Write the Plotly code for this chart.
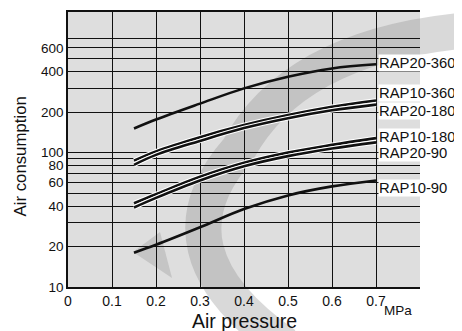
import plotly.graph_objects as go

# ---- data ----
pressure = [0.15, 0.2, 0.3, 0.4, 0.5, 0.6, 0.7]
rap20_360 = [151, 176, 231, 300, 366, 422, 453]
rap10_360 = [87, 102, 130, 160, 190, 219, 244]
rap20_180 = [81, 96, 122, 152, 180, 206, 227]
rap10_180 = [42, 49, 66, 84, 100, 114, 128]
rap20_90 = [39, 46, 62, 79, 94, 107, 119]
rap10_90 = [18, 20.6, 27.8, 38, 48, 56, 62]

series_names = ["RAP20-360", "RAP10-360", "RAP20-180", "RAP10-180", "RAP20-90", "RAP10-90"]
series_values = [rap20_360, rap10_360, rap20_180, rap10_180, rap20_90, rap10_90]
paired = [False, True, True, True, True, False]

x_tickvals = [0, 0.1, 0.2, 0.3, 0.4, 0.5, 0.6, 0.7]
x_ticktext = ["0", "0.1", "0.2", "0.3", "0.4", "0.5", "0.6", "0.7"]
y_gridvals = [10, 20, 30, 40, 50, 60, 70, 80, 90, 100, 200, 300, 400, 500, 600, 700]
y_labelled = [10, 20, 40, 60, 80, 100, 200, 400, 600]
y_ticktext = [str(v) if v in y_labelled else "" for v in y_gridvals]

# label vertical placement (paper fraction of plot height)
label_y = [0.813, 0.704, 0.641, 0.547, 0.488, 0.359]

FONT = "Liberation Sans, Arial, Helvetica, sans-serif"
# page geometry: the browser body adds an 8px margin on the top and left
BODY = 8
PAGE_W, PAGE_H = 462, 331
W, H = PAGE_W - BODY, PAGE_H - BODY
PL, PT, PR, PB = 68, 12, 420, 287          # plot box in page pixels
L, T = PL - BODY, PT - BODY
R, B = PAGE_W - PR, PAGE_H - PB
PW, PH = PR - PL, PB - PT


def px(xp, yp):
    return (xp - PL) / PW, (PB - yp) / PH


fig = go.Figure()

for name, vals, pair in zip(series_names, series_values, paired):
    if pair:
        fig.add_trace(go.Scatter(x=pressure, y=vals, mode="lines",
                                 line=dict(color="white", width=4.6, shape="spline"),
                                 hoverinfo="skip", showlegend=False))
    fig.add_trace(go.Scatter(x=pressure, y=vals, mode="lines", name=name,
                             line=dict(color="#111111", width=2.6, shape="spline"),
                             showlegend=False))

# background + watermark swoosh
shapes = [dict(type="rect", xref="paper", yref="paper", x0=0, x1=1, y0=0, y1=1,
               fillcolor="#dedede", line=dict(width=0), layer="below")]


def pp(xp, yp):
    a, b = px(xp, yp)
    return f"{a:.4f},{b:.4f}"


path = f"M {pp(470,30)} Q {pp(295,45)} {pp(238,150)} Q {pp(150,250)} {pp(285,345)}"
shapes.append(dict(type="path", xref="paper", yref="paper", path=path,
                   line=dict(color="rgba(140,140,140,0.33)", width=36), layer="below"))
tri = f"M {pp(133,252)} L {pp(160,232)} L {pp(172,278)} Z"
shapes.append(dict(type="path", xref="paper", yref="paper", path=tri,
                   fillcolor="rgba(140,140,140,0.30)", line=dict(width=0), layer="below"))

annotations = []
for name, ly in zip(series_names, label_y):
    annotations.append(dict(x=0.705, xref="x", y=ly, yref="paper", text=name,
                            xanchor="left", yanchor="middle", showarrow=False,
                            bgcolor="white", borderpad=0,
                            font=dict(family=FONT, size=14.8, color="#111")))
ax, ay = px(398, 310)
annotations.append(dict(x=ax, y=ay, xref="paper", yref="paper", text="MPa", showarrow=False,
                        xanchor="center", yanchor="middle",
                        font=dict(family=FONT, size=13.5, color="#111")))
ax, ay = px(244, 321)
annotations.append(dict(x=ax, y=ay, xref="paper", yref="paper", text="Air pressure", showarrow=False,
                        xanchor="center", yanchor="middle",
                        font=dict(family=FONT, size=19.5, color="#111")))
ax, ay = px(20, 156.5)
annotations.append(dict(x=ax, y=ay, xref="paper", yref="paper", text="Air consumption", showarrow=False,
                        xanchor="center", yanchor="middle", textangle=-90,
                        font=dict(family=FONT, size=16.8, color="#111")))

fig.update_layout(
    width=W, height=H,
    margin=dict(l=L, r=R, t=T, b=B, pad=0, autoexpand=False),
    paper_bgcolor="white",
    plot_bgcolor="rgba(0,0,0,0)",
    shapes=shapes,
    annotations=annotations,
    showlegend=False,
    xaxis=dict(range=[0, 0.8], tickvals=x_tickvals, ticktext=x_ticktext,
               showgrid=True, gridcolor="#111", gridwidth=1.3, zeroline=False,
               showline=True, linecolor="#111", linewidth=1.6, mirror=True,
               ticks="", automargin=False, tickfont=dict(family=FONT, size=14, color="#111")),
    yaxis=dict(type="log", range=[1, 3.045], tickvals=y_gridvals, ticktext=y_ticktext,
               showgrid=True, gridcolor="#111", gridwidth=1.3, zeroline=False,
               showline=True, linecolor="#111", linewidth=1.6, mirror=False,
               ticks="", automargin=False, tickfont=dict(family=FONT, size=13.5, color="#111")),
)

fig.write_html("out.html")
